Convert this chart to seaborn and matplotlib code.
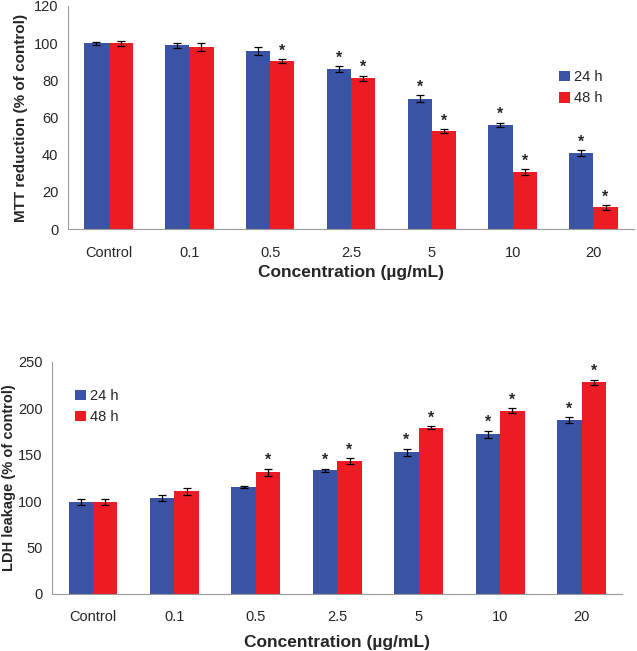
import matplotlib
matplotlib.use("Agg")
import matplotlib.pyplot as plt
import numpy as np
import pandas as pd
import seaborn as sns

# data
concentrations = ["Control", "0.1", "0.5", "2.5", "5", "10", "20"]
times = ["24 h", "48 h"]

mtt_24h = [99.8, 98.7, 95.8, 86.0, 70.2, 56.0, 40.8]
mtt_48h = [99.8, 97.8, 90.3, 81.0, 52.7, 30.6, 11.7]
mtt_err_24h = [1.0, 1.3, 2.0, 1.5, 1.8, 1.3, 1.5]
mtt_err_48h = [1.2, 2.0, 0.9, 1.5, 1.2, 1.5, 1.2]
mtt_star_24h = [False, False, False, True, True, True, True]
mtt_star_48h = [False, False, True, True, True, True, True]

ldh_24h = [99.0, 103.0, 115.0, 133.0, 152.5, 172.0, 187.5]
ldh_48h = [99.0, 110.5, 131.0, 143.0, 179.0, 197.5, 228.0]
ldh_err_24h = [3.0, 3.0, 1.5, 2.0, 4.0, 4.0, 3.0]
ldh_err_48h = [3.0, 4.0, 4.0, 3.0, 1.5, 3.0, 3.0]
ldh_star_24h = [False, False, False, True, True, True, True]
ldh_star_48h = [False, False, True, True, True, True, True]

PALETTE = {"24 h": "#3A53A4", "48 h": "#ED1C24"}
AXIS_GRAY = "#9A9A9A"


def long_frame(v24, v48):
    return pd.DataFrame({
        "conc": concentrations * 2,
        "time": ["24 h"] * len(concentrations) + ["48 h"] * len(concentrations),
        "value": list(v24) + list(v48),
    })


def draw_panel(ax, v24, v48, e24, e48, s24, s48, ymax, ystep, ylabel, star_pad,
               legend_pos, ylabel_size, ylabel_pad, xlabel_pad):
    df = long_frame(v24, v48)
    sns.barplot(data=df, x="conc", y="value", hue="time", order=concentrations,
                hue_order=times, palette=PALETTE, width=0.6, errorbar=None,
                saturation=1, linewidth=0, ax=ax)
    for container, vals, errs, stars in zip(ax.containers, [v24, v48], [e24, e48], [s24, s48]):
        xs = [p.get_x() + p.get_width() / 2 for p in container.patches]
        ax.errorbar(xs, vals, yerr=errs, fmt="none", ecolor="black",
                    elinewidth=0.9, capsize=3, capthick=0.9)
        for x, v, e, s in zip(xs, vals, errs, stars):
            if s:
                ax.text(x, v + e + star_pad, "*", ha="center", va="bottom",
                        fontsize=11.5, fontweight="bold")
    ax.set_xlim(-0.5, len(concentrations) - 0.5)
    ax.set_ylim(0, ymax)
    ax.set_yticks(np.arange(0, ymax + 1, ystep))
    ax.set_xlabel("Concentration (\u00b5g/mL)", fontsize=12.5, fontweight="bold", labelpad=xlabel_pad)
    ax.set_ylabel(ylabel, fontsize=ylabel_size, fontweight="bold", labelpad=ylabel_pad)
    ax.tick_params(axis="x", which="major", length=0, pad=12, labelsize=10.5)
    ax.set_xticks(np.arange(-0.5, len(concentrations)), minor=True)
    ax.tick_params(axis="x", which="minor", length=4, color=AXIS_GRAY, direction="out")
    ax.tick_params(axis="y", length=4, color=AXIS_GRAY, labelsize=10.5, pad=3)
    for side in ["top", "right"]:
        ax.spines[side].set_visible(False)
    for side in ["left", "bottom"]:
        ax.spines[side].set_color(AXIS_GRAY)
        ax.spines[side].set_linewidth(0.8)
    ax.grid(False)
    ax.legend(loc="upper left", bbox_to_anchor=legend_pos, frameon=False,
              fontsize=10.5, handlelength=0.75, handleheight=0.75, handletextpad=0.25,
              labelspacing=0.5, borderpad=0)


sns.set_theme(style="white")
plt.rcParams["font.family"] = ["Liberation Sans", "DejaVu Sans"]

fig = plt.figure(figsize=(6.37, 6.51), dpi=100)
ax_top = fig.add_axes([0.107, 0.648, 0.888, 0.343])
ax_bot = fig.add_axes([0.082, 0.088, 0.895, 0.356])

draw_panel(ax_top, mtt_24h, mtt_48h, mtt_err_24h, mtt_err_48h, mtt_star_24h, mtt_star_48h,
           120, 20, "MTT reduction (% of control)", 0.3, (0.855, 0.745), 11, 4, 4)
draw_panel(ax_bot, ldh_24h, ldh_48h, ldh_err_24h, ldh_err_48h, ldh_star_24h, ldh_star_48h,
           250, 50, "LDH leakage (% of control)", 0.6, (0.027, 0.915), 10.5, 1, 8)

fig.savefig("out.png", dpi=100)
plt.close(fig)
